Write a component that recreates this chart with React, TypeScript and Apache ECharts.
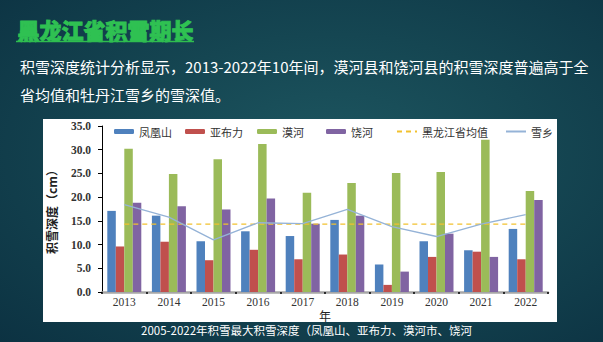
import React, { useEffect, useRef } from "react";
import * as echarts from "echarts";

const years = ["2013", "2014", "2015", "2016", "2017", "2018", "2019", "2020", "2021", "2022"];
const fenghuangshan = [17.1, 16.1, 10.7, 12.8, 11.8, 15.2, 5.8, 10.7, 8.8, 13.3];
const yabuli = [9.6, 10.6, 6.7, 8.9, 6.9, 7.9, 1.5, 7.4, 8.5, 6.9];
const mohe = [30.2, 24.9, 28.0, 31.2, 20.9, 23.0, 25.1, 25.3, 32.1, 21.3];
const raohe = [18.8, 18.1, 17.4, 19.7, 14.4, 16.1, 4.3, 12.3, 7.4, 19.4];
const provinceAvg = [14.3, 14.3, 14.3, 14.3, 14.3, 14.3, 14.3, 14.3, 14.3, 14.3];
const xuexiang = [18.4, 15.8, 11.0, 14.6, 14.4, 17.4, 13.8, 11.7, 14.3, 16.3];

const seriesNames = ["凤凰山", "亚布力", "漠河", "饶河", "黑龙江省均值", "雪乡"];
const legendLefts = [109, 180, 252, 321, 391, 500];

const titleText = "黑龙江省积雪期长";
const bodyLine1 = "积雪深度统计分析显示，2013-2022年10年间，漠河县和饶河县的积雪深度普遍高于全";
const bodyLine2 = "省均值和牡丹江雪乡的雪深值。";
const captionText = "2005-2022年积雪最大积雪深度（凤凰山、亚布力、漠河市、饶河";

const CJK = "'Noto Sans CJK SC', 'Noto Sans', sans-serif";
const SERIF = "'Liberation Serif', 'DejaVu Serif', serif";

export default function App() {
  const ref = useRef<HTMLDivElement>(null);

  useEffect(() => {
    if (!ref.current) return;
    const chart = echarts.init(ref.current, null, { renderer: "svg" });
    const colors = ["#4F81BD", "#C0504D", "#9BBB59", "#8064A2", "#F2C12E", "#95B3D7"];
    const barData = [fenghuangshan, yabuli, mohe, raohe];

    const series: any[] = barData.map((d, i) => ({
      name: seriesNames[i],
      type: "bar",
      data: d,
      barWidth: 8.5,
      barGap: "0%",
      itemStyle: { color: colors[i] },
    }));
    series.push({
      name: seriesNames[4],
      type: "line",
      data: provinceAvg,
      symbol: "none",
      lineStyle: { color: colors[4], type: [5, 4], width: 1.3 },
      itemStyle: { color: colors[4] },
      z: 5,
    });
    series.push({
      name: seriesNames[5],
      type: "line",
      data: xuexiang,
      symbol: "none",
      lineStyle: { color: colors[5], width: 1.3 },
      itemStyle: { color: colors[5] },
      z: 6,
    });

    const legends = seriesNames.map((n, i) => ({
      data: i < 4 ? [n] : [{ name: n, itemStyle: { opacity: 0 } }],
      left: legendLefts[i],
      top: 121,
      itemWidth: 20,
      itemHeight: i < 4 ? 5 : 10,
      itemGap: 4,
      textStyle: { fontFamily: CJK, fontSize: 11, color: "#333" },
      selectedMode: false,
    }));

    chart.setOption({
      animation: false,
      backgroundColor: "transparent",
      color: colors,
      legend: legends,
      grid: { left: 102, right: 55, top: 126, bottom: 50 },
      xAxis: {
        type: "category",
        data: years,
        name: "年",
        nameLocation: "middle",
        nameGap: 17,
        nameTextStyle: { fontFamily: CJK, fontSize: 12, color: "#222" },
        axisLine: { lineStyle: { color: "#a6a6a6", width: 2.5 } },
        axisTick: { show: true, length: 2, lineStyle: { color: "#000", width: 1.5 } },
        axisLabel: { fontFamily: SERIF, fontSize: 11.5, color: "#333", margin: 4 },
      },
      yAxis: {
        type: "value",
        min: 0,
        max: 35,
        interval: 5,
        name: "积雪深度（cm）",
        nameLocation: "middle",
        nameGap: 45,
        nameTextStyle: { fontFamily: CJK, fontSize: 12, fontWeight: "bold", color: "#222" },
        axisLine: { show: true, lineStyle: { color: "#000", width: 1 } },
        axisTick: { show: true, length: 4, lineStyle: { color: "#000" } },
        splitLine: { show: false },
        axisLabel: {
          fontFamily: SERIF,
          fontSize: 11.5,
          fontWeight: "bold",
          color: "#333",
          margin: 11,
          formatter: (v: number) => v.toFixed(1),
        },
      },
      graphic: [
        {
          type: "text",
          left: 17,
          top: 18,
          style: {
            text: titleText,
            fontFamily: CJK,
            fontSize: 22,
            fontWeight: 900,
            fill: "#2fc152",
            stroke: "#2fc152",
            lineWidth: 0.9,
          },
        },
        {
          type: "line",
          shape: { x1: 16, y1: 41.5, x2: 194, y2: 41.5 },
          style: { stroke: "#2fbd4f", lineWidth: 1.5 },
        },
        {
          type: "text",
          left: 20,
          top: 59,
          style: { text: bodyLine1, fontFamily: CJK, fontSize: 15, fill: "#ffffff" },
        },
        {
          type: "text",
          left: 20,
          top: 87,
          style: { text: bodyLine2, fontFamily: CJK, fontSize: 15, fill: "#ffffff" },
        },
        {
          type: "text",
          left: 141,
          top: 324.5,
          style: { text: captionText, fontFamily: CJK, fontSize: 11.5, fill: "#ffffff" },
        },
      ],
      series,
    });
    return () => chart.dispose();
  }, []);

  return (
    <div
      style={{
        position: "absolute",
        left: 0,
        top: 0,
        width: 603,
        height: 342,
        overflow: "hidden",
        background:
          "radial-gradient(ellipse at 55% 45%, #1d5660 0%, #154652 45%, #0c3242 100%)",
      }}
    >
      <div
        style={{
          position: "absolute",
          left: 43,
          top: 119,
          width: 514,
          height: 203,
          background: "#ffffff",
        }}
      />
      <div ref={ref} style={{ position: "absolute", left: 0, top: 0, width: 603, height: 342 }} />
    </div>
  );
}
